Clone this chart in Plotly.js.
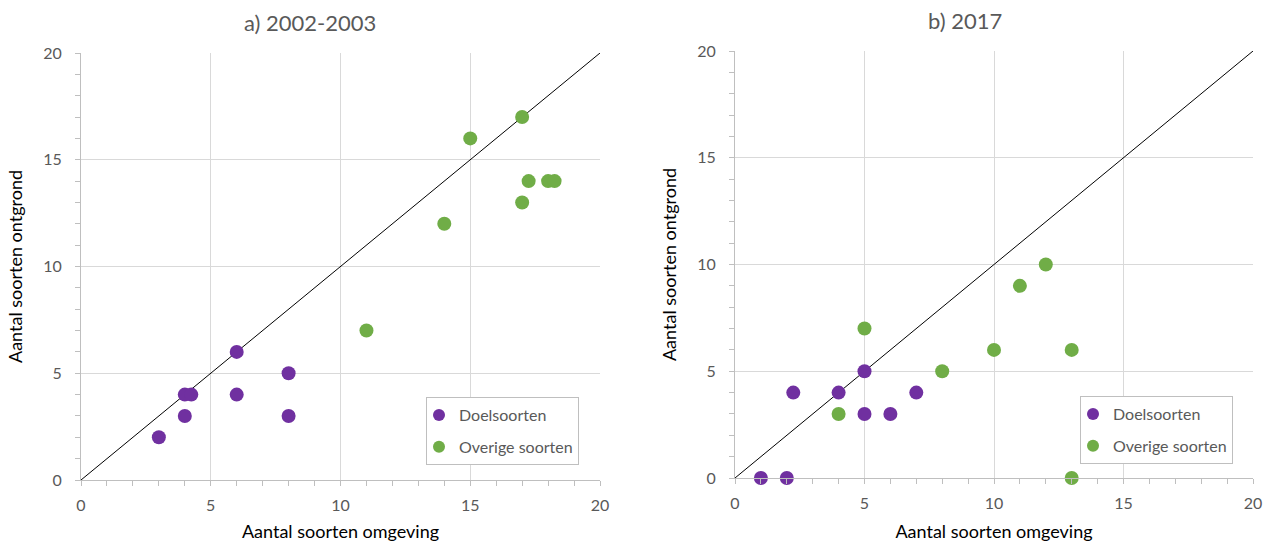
<!DOCTYPE html>
<html>
<head>
<meta charset="utf-8">
<script src="https://cdn.plot.ly/plotly-3.0.1.min.js"></script>
<style>html,body{margin:0;padding:0;background:#fff}#chart{width:1265px;height:542px}</style>
</head>
<body>
<div id="chart"></div>
<script>
// Panel titles and labels
const panelTitles = ["a) 2002-2003", "b) 2017"];
const xTitle = "Aantal soorten omgeving";
const yTitle = "Aantal soorten ontgrond";
const seriesNames = ["Doelsoorten", "Overige soorten"];
const tickVals = [0, 5, 10, 15, 20];
const diagonal = [0, 20];

// a) 2002-2003
const aDoelX = [3, 4, 4.25, 4, 6, 6, 8, 8];
const aDoelY = [2, 4, 4, 3, 6, 4, 5, 3];
const aOverX = [15, 17, 17.25, 18, 18.25, 17, 14, 11];
const aOverY = [16, 17, 14, 14, 14, 13, 12, 7];

// b) 2017
const bDoelX = [1, 2, 2.25, 4, 5, 5, 6, 7];
const bDoelY = [0, 0, 4, 4, 5, 3, 3, 4];
const bOverX = [5, 4, 8, 10, 13, 11, 12, 13];
const bOverY = [7, 3, 5, 6, 6, 9, 10, 0];

const purple = "#7030A0";
const green = "#70AD47";
const mk = (c) => ({color: c, size: 14, symbol: "circle"});

const traces = [
  {x: diagonal, y: diagonal, mode: "lines", line: {color: "#000", width: 1}, showlegend: false, hoverinfo: "skip", xaxis: "x", yaxis: "y"},
  {x: aDoelX, y: aDoelY, mode: "markers", name: seriesNames[0], legendgroup: "a1", marker: mk(purple), cliponaxis: false, xaxis: "x", yaxis: "y", legend: "legend"},
  {x: aOverX, y: aOverY, mode: "markers", name: seriesNames[1], legendgroup: "a2", marker: mk(green), cliponaxis: false, xaxis: "x", yaxis: "y", legend: "legend"},
  {x: diagonal, y: diagonal, mode: "lines", line: {color: "#000", width: 1}, showlegend: false, hoverinfo: "skip", xaxis: "x2", yaxis: "y2"},
  {x: bDoelX, y: bDoelY, mode: "markers", name: seriesNames[0], legendgroup: "b1", marker: mk(purple), cliponaxis: false, xaxis: "x2", yaxis: "y2", legend: "legend2"},
  {x: bOverX, y: bOverY, mode: "markers", name: seriesNames[1], legendgroup: "b2", marker: mk(green), cliponaxis: false, xaxis: "x2", yaxis: "y2", legend: "legend2"}
];

const fontFam = "Lato, 'Open Sans', sans-serif";
const tickFont = {family: fontFam, size: 16, color: "#595959"};
function xax(domain, anchor) {
  return {domain: domain, anchor: anchor, range: [0, 20], tickvals: tickVals, showgrid: true, gridcolor: "#d9d9d9", gridwidth: 1,
    zeroline: false, showline: true, linecolor: "#bfbfbf", linewidth: 1, ticks: "outside", ticklen: 5, tickcolor: "#bfbfbf",
    minor: {dtick: 1, ticks: "outside", ticklen: 5, tickcolor: "#bfbfbf", showgrid: false},
    tickfont: tickFont, ticklabelstandoff: 6, fixedrange: true,
    title: {text: xTitle, font: {family: fontFam, size: 18, color: "#000"}, standoff: 19}};
}
function yax(domain, anchor) {
  return {domain: domain, anchor: anchor, range: [0, 20], tickvals: tickVals, showgrid: true, gridcolor: "#d9d9d9", gridwidth: 1,
    zeroline: false, showline: true, linecolor: "#bfbfbf", linewidth: 1, ticks: "outside", ticklen: 5, tickcolor: "#bfbfbf",
    minor: {dtick: 1, ticks: "outside", ticklen: 5, tickcolor: "#bfbfbf", showgrid: false},
    tickfont: tickFont, ticklabelstandoff: 10, fixedrange: true,
    title: {text: yTitle, font: {family: fontFam, size: 18, color: "#000"}, standoff: 15}};
}
const legendStyle = (x, y) => ({x: x, y: y, xanchor: "left", yanchor: "top", xref: "paper", yref: "paper",
  bgcolor: "#fff", bordercolor: "#bfbfbf", borderwidth: 1, font: {family: fontFam, size: 16, color: "#595959"},
  itemsizing: "constant", traceorder: "grouped", tracegroupgap: 8, indentation: -8});

const layout = {
  width: 1265, height: 542,
  margin: {l: 0, r: 0, t: 0, b: 0},
  paper_bgcolor: "#fff", plot_bgcolor: "rgba(0,0,0,0)",
  xaxis: xax([81/1265, 600/1265], "y"),
  yaxis: yax([(542-480)/542, (542-53)/542], "x"),
  xaxis2: xax([735/1265, 1253/1265], "y2"),
  yaxis2: yax([(542-478)/542, (542-51)/542], "x2"),
  legend: legendStyle(426/1265, (542-397)/542),
  legend2: legendStyle(1080/1265, (542-396)/542),
  annotations: [
    {text: panelTitles[0], x: 310/1265, y: (542-22)/542, xref: "paper", yref: "paper", xanchor: "center", yanchor: "middle", showarrow: false, font: {family: fontFam, size: 22, color: "#595959"}},
    {text: panelTitles[1], x: 965/1265, y: (542-20)/542, xref: "paper", yref: "paper", xanchor: "center", yanchor: "middle", showarrow: false, font: {family: fontFam, size: 22, color: "#595959"}}
  ],
  showlegend: true
};

Plotly.newPlot("chart", traces, layout, {displayModeBar: false, staticPlot: true});
</script>
</body>
</html>
